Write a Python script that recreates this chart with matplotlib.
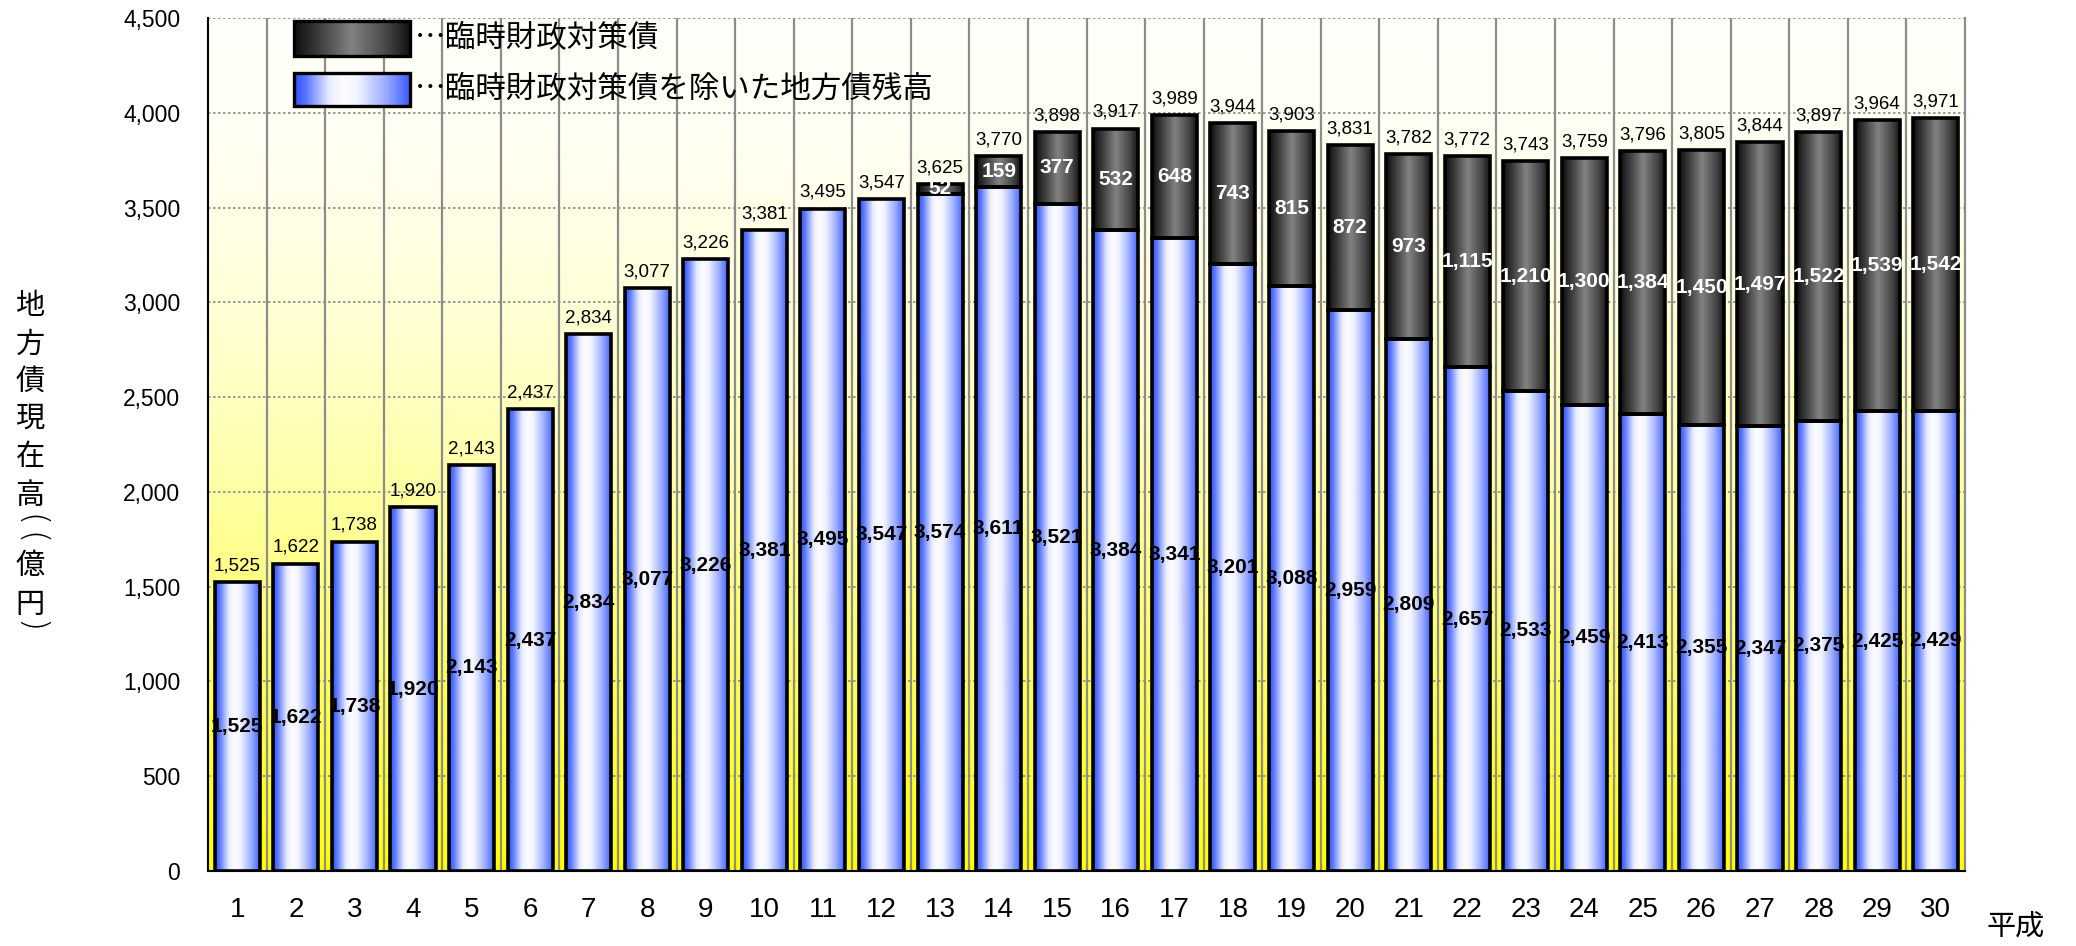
import numpy as np
import matplotlib
matplotlib.use("Agg")
import matplotlib.pyplot as plt
from matplotlib.patches import Rectangle
from matplotlib import font_manager

years = list(range(1, 31))
base_debt = [1525, 1622, 1738, 1920, 2143, 2437, 2834, 3077, 3226, 3381,
             3495, 3547, 3574, 3611, 3521, 3384, 3341, 3201, 3088, 2959,
             2809, 2657, 2533, 2459, 2413, 2355, 2347, 2375, 2425, 2429]
special_debt = [0, 0, 0, 0, 0, 0, 0, 0, 0, 0, 0, 0,
                52, 159, 377, 532, 648, 743, 815, 872, 973, 1115,
                1210, 1300, 1384, 1450, 1497, 1522, 1539, 1542]
totals = [1525, 1622, 1738, 1920, 2143, 2437, 2834, 3077, 3226, 3381,
          3495, 3547, 3625, 3770, 3898, 3917, 3989, 3944, 3903, 3831,
          3782, 3772, 3743, 3759, 3796, 3805, 3844, 3897, 3964, 3971]
yticks = [0, 500, 1000, 1500, 2000, 2500, 3000, 3500, 4000, 4500]
legend_labels = ["…臨時財政対策債", "…臨時財政対策債を除いた地方債残高"]
# vertical title: "(" / ")" are drawn rotated to look like vertical brackets
ylabel_chars = ["地", "方", "債", "現", "在", "高", "(", "(", "億", "円", ")"]
xlabel = "平成"

avail = {f.name for f in font_manager.fontManager.ttflist}
num_font = "Liberation Sans Narrow" if "Liberation Sans Narrow" in avail else "Liberation Sans"
cjk = ["Noto Sans CJK JP", "DejaVu Sans"]

fig = plt.figure(figsize=(20.76, 9.46), dpi=100)
ax = fig.add_axes([208/2076, 75/946, 1757/2076, 853/946])

# background gradient (pale at top, yellow at bottom)
n = 256
t = np.linspace(0, 1, n)[:, None]  # 0 top, 1 bottom
blue_ch = 0.98 * (1 - t**1.8)
bg = np.dstack([np.ones_like(t), np.ones_like(t), blue_ch])
ax.imshow(bg, extent=[0, 1, 0, 1], transform=ax.transAxes, aspect="auto",
          zorder=0, interpolation="bicubic")

def hgrad(stops, n=96):
    xs = np.linspace(0, 1, n)
    pos = [s[0] for s in stops]
    cols = np.array([matplotlib.colors.to_rgb(s[1]) for s in stops])
    arr = np.stack([np.interp(xs, pos, cols[:, k]) for k in range(3)], axis=-1)
    return arr[None, :, :]

blue_grad = hgrad([(0, "#3050ff"), (0.1, "#5a76ff"), (0.3, "#e8ecff"),
                   (0.42, "#fcfcff"), (0.55, "#f2f4ff"), (0.8, "#98aaff"), (1, "#3c5cff")])
dark_grad = hgrad([(0, "#0e0e0e"), (0.2, "#3a3a3a"), (0.5, "#828282"),
                   (0.8, "#474747"), (1, "#121212")])

def fill_patch(patch, grad, zorder):
    x0, y0 = patch.get_x(), patch.get_y()
    w, h = patch.get_width(), patch.get_height()
    if h <= 0:
        return
    im = ax.imshow(grad, extent=[x0, x0 + w, y0, y0 + h], aspect="auto",
                   zorder=zorder, interpolation="bicubic")
    im.set_clip_path(patch)

width = 0.77
bars_b = ax.bar(years, base_debt, width=width, facecolor="none",
                edgecolor="black", linewidth=2.6, zorder=3)
bars_s = ax.bar(years, special_debt, width=width, bottom=base_debt,
                facecolor="none", edgecolor="black", linewidth=2.6, zorder=3)
for p in bars_b:
    fill_patch(p, blue_grad, 2.5)
for p, v in zip(bars_s, special_debt):
    if v > 0:
        fill_patch(p, dark_grad, 2.5)
    else:
        p.set_visible(False)

# grid
for yv in yticks[1:]:
    ax.axhline(yv, color="#8a8a8a", linestyle=(0, (1.5, 1.5)), linewidth=1.2, zorder=1)
for xv in np.arange(1.5, 30.5, 1.0):
    ax.axvline(xv, color="#8c8c8c", linewidth=1.6, zorder=1)

ax.set_xlim(0.5, 30.5)
ax.set_ylim(0, 4500)
ax.set_yticks(yticks)
ax.set_yticklabels([f"{v:,}" for v in yticks], fontsize=16.5, family=num_font)
ax.set_xticks(years)
ax.set_xticklabels([str(y) for y in years], fontsize=20, family=num_font)
ax.tick_params(axis="x", length=0, pad=19)
ax.tick_params(axis="y", length=0, pad=20)

ax.spines["top"].set_visible(False)
ax.spines["right"].set_color("#8c8c8c")
ax.spines["right"].set_linewidth(1.6)
ax.spines["left"].set_linewidth(1.5)
ax.spines["bottom"].set_linewidth(1.5)

# labels
for x, b, s, tot in zip(years, base_debt, special_debt, totals):
    ax.text(x, tot + 40, f"{tot:,}", ha="center", va="bottom", fontsize=13.5,
            family=num_font, zorder=5)
    ax.text(x, b / 2, f"{b:,}", ha="center", va="center", fontsize=15,
            family=num_font, fontweight="bold", color="black", zorder=5)
    if s > 0:
        ax.text(x, b + s / 2, f"{s:,}", ha="center", va="center", fontsize=15,
                family=num_font, fontweight="bold", color="white", zorder=5)

# legend
leg_items = [(dark_grad, 0.955, 0.9965), (blue_grad, 0.897, 0.9355)]
for (grad, yb, yt), lab in zip(leg_items, legend_labels):
    r = Rectangle((0.049, yb), 0.066, yt - yb, transform=ax.transAxes,
                  facecolor="none", edgecolor="black", linewidth=2.4, zorder=7)
    ax.add_patch(r)
    im = ax.imshow(grad, extent=[0.049, 0.115, yb, yt], transform=ax.transAxes,
                   aspect="auto", zorder=6, interpolation="bicubic")
    im.set_clip_path(r)
    ax.text(0.118, (yb + yt) / 2, lab, transform=ax.transAxes, ha="left",
            va="center", fontsize=22, family=cjk, zorder=7)

ax.set_xlim(0.5, 30.5)
ax.set_ylim(0, 4500)

# vertical y-axis title, one character per line
ypos = [306, 345, 382, 419, 457, 496, 521, 538, 566, 605, 627]
for ch, yp in zip(ylabel_chars, ypos):
    if ch in "()":
        fig.text(30/2076, 1 - yp/946, ch, ha="center", va="center",
                 fontsize=24, family=["DejaVu Sans"], rotation=-90,
                 rotation_mode="anchor", fontweight="light")
    else:
        fig.text(30/2076, 1 - yp/946, ch, ha="center", va="center",
                 fontsize=21, family=cjk)

fig.text(2016/2076, 1 - 927/946, xlabel, ha="center", va="center",
         fontsize=21, family=cjk)

fig.savefig("out.png", dpi=100)
